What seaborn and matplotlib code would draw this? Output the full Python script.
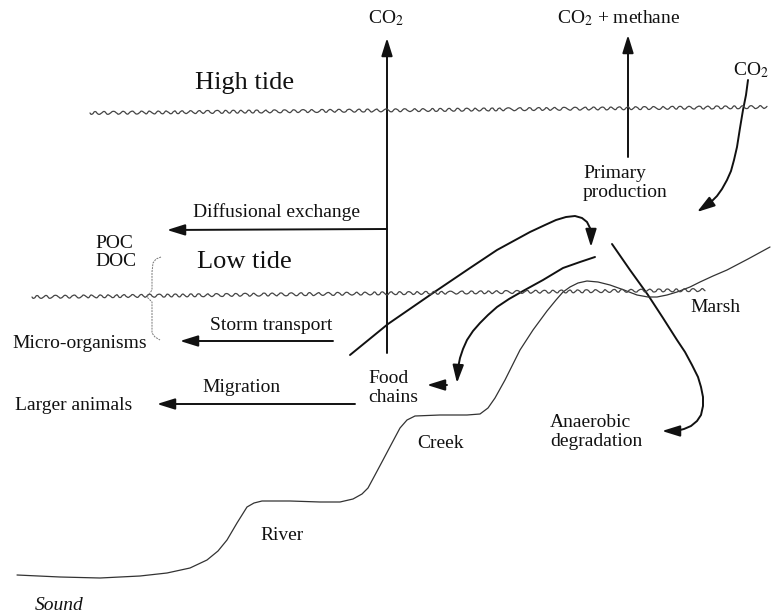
import matplotlib
matplotlib.use("Agg")
import matplotlib.pyplot as plt
import seaborn as sns
import pandas as pd
from matplotlib.patches import FancyArrowPatch
from matplotlib.path import Path

# all positions are in picture pixels (x right, y down)

# ground profile: sound -> river -> creek -> marsh
terrain_x = [17, 60, 100, 140, 167, 190, 207, 218, 227, 237, 247, 254, 262, 290, 320, 340,
             353, 362, 368, 375, 383, 392, 400, 407, 415, 440, 467, 480, 488, 495, 505, 520,
             533, 547, 556, 563, 570, 578, 587, 598, 610, 624, 637, 648, 657, 667, 677, 690,
             700, 713, 727, 748, 770]
terrain_y = [575, 577, 578, 576, 573, 568, 560, 551, 540, 523, 507, 503, 501, 501, 502, 502,
             499, 494, 488, 475, 460, 443, 428, 420, 416, 415, 415, 414, 408, 398, 380, 350,
             330, 311, 300, 292, 287, 283, 281, 282, 285, 290, 295, 297, 297, 295, 292, 287,
             282, 276, 270, 259, 247]

# tide levels (wavy lines)
tide_names = ["High tide", "Low tide"]
tide_x = [[90, 767], [32, 705]]
tide_y = [[113, 107], [297, 290]]

# straight flux arrows: (tail, head)
straight_arrows = {
    "co2_up": [(387, 353), (387, 38)],
    "co2_methane": [(628, 157), (628, 35)],
    "diffusional": [(387, 229), (167, 230)],
    "storm": [(333, 341), (180, 341)],
    "migration": [(355, 404), (157, 404)],
    "food_out": [(447, 385), (427, 385)],
}

# curved flux arrows, traced from tail to head
curve_to_marsh = [(350, 355), (388, 324), (433, 293), (470, 268), (497, 250), (530, 232),
                  (545, 225), (556, 220), (566, 217), (575, 216), (582, 218), (587, 222),
                  (590, 228), (591, 236), (591, 247)]
curve_to_food = [(595, 257), (580, 262), (563, 268), (543, 280), (523, 291), (509, 299),
                 (497, 307), (488, 315), (480, 323), (473, 331), (467, 340), (463, 349),
                 (460, 358), (458, 368), (457, 383)]
curve_anaerobic = [(612, 244), (630, 270), (648, 295), (663, 318), (677, 340), (685, 352),
                   (692, 365), (698, 377), (701, 387), (703, 397), (703, 406), (701, 415),
                   (697, 421), (691, 426), (684, 429), (676, 431), (662, 431)]
curve_co2_in = [(748, 80), (746, 95), (743, 110), (740, 128), (737, 147), (734, 160),
                (731, 171), (727, 180), (722, 189), (717, 196), (710, 203), (697, 212)]

# brace joining POC / DOC / micro-organisms
brace = [(161, 257), (156, 259), (153, 263), (152, 272), (152, 290), (147, 297), (152, 302),
         (152, 320), (152, 333), (155, 337), (160, 340)]

# labels: text, x (left), y (centre), size, style
labels = [
    ("CO$_2$", 368, 18, 14, 'normal'),
    ("CO$_2$ + methane", 557, 18, 14, 'normal'),
    ("CO$_2$", 733, 70, 14, 'normal'),
    ("High tide", 195, 83, 19, 'normal'),
    ("Low tide", 197, 262, 19, 'normal'),
    ("Diffusional exchange", 193, 212, 14, 'normal'),
    ("POC", 95, 243, 14, 'normal'),
    ("DOC", 95, 262, 14, 'normal'),
    ("Storm transport", 210, 325, 14, 'normal'),
    ("Micro-organisms", 12, 343, 14, 'normal'),
    ("Migration", 202, 388, 14, 'normal'),
    ("Larger animals", 15, 405, 14, 'normal'),
    ("Food\nchains", 368, 388, 14, 'normal'),
    ("Primary\nproduction", 583, 183, 14, 'normal'),
    ("Marsh", 690, 308, 14, 'normal'),
    ("Creek", 417, 443, 14, 'normal'),
    ("Anaerobic\ndegradation", 550, 432, 14, 'normal'),
    ("River", 260, 535, 14, 'normal'),
    ("Sound", 35, 606, 14, 'italic'),
]

sns.set_theme(style="white")
plt.rcParams['font.family'] = ['Liberation Serif', 'DejaVu Serif']
plt.rcParams['mathtext.fontset'] = 'stix'

fig = plt.figure(figsize=(7.71, 6.16), dpi=100)
ax = fig.add_axes([0, 0, 1, 1])
ax.set_xlim(0, 771)
ax.set_ylim(616, 0)
ax.axis('off')

ink = '#111111'

# ground profile
terrain = pd.DataFrame({'x': terrain_x, 'y': terrain_y})
sns.lineplot(data=terrain, x='x', y='y', sort=False, estimator=None, ax=ax,
             color='#333333', lw=0.9)

# tide lines with a wiggle
for name, xs, ys in zip(tide_names, tide_x, tide_y):
    ln, = ax.plot(xs, ys, color='#444444', lw=0.9)
    ln.set_sketch_params(scale=1.5, length=9, randomness=0.6)

# brace
bx, by = zip(*brace)
ax.plot(bx, by, color='#777777', lw=0.7, ls=(0, (2, 1)))

arrow_style = '-|>,head_length=0.9,head_width=0.28'

for tail, head in straight_arrows.values():
    ax.add_patch(FancyArrowPatch(tail, head, arrowstyle=arrow_style, mutation_scale=12,
                                 color=ink, lw=1.4, shrinkA=0, shrinkB=0))

for pts in [curve_to_marsh, curve_to_food, curve_anaerobic, curve_co2_in]:
    p = Path(pts, [Path.MOVETO] + [Path.LINETO] * (len(pts) - 1))
    ax.add_patch(FancyArrowPatch(path=p, arrowstyle=arrow_style, mutation_scale=12,
                                 color=ink, lw=1.4, joinstyle='round', capstyle='round'))

for txt, x, y, size, style in labels:
    ax.text(x, y, txt, fontsize=size, style=style, color=ink, ha='left', va='center',
            linespacing=1.15)

fig.savefig('out.png', dpi=100)
